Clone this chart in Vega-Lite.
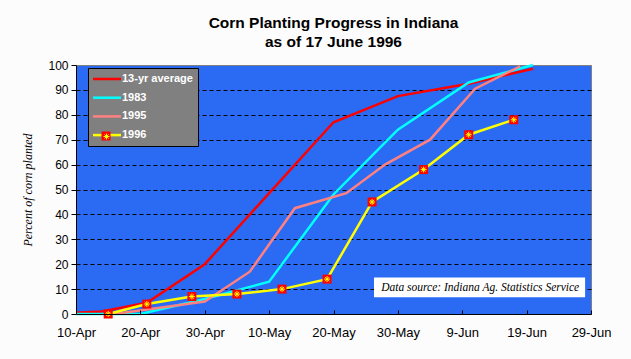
{
  "$schema": "https://vega.github.io/schema/vega-lite/v6.json",
  "autosize": "none",
  "width": 515,
  "height": 249,
  "padding": {"left": 76, "top": 65, "right": 40, "bottom": 45},
  "background": "#FCFCFC",
  "title": {
    "text": ["Corn Planting Progress in Indiana", "as of 17 June 1996"],
    "font": "Liberation Sans",
    "fontSize": 15.5,
    "fontWeight": "bold",
    "color": "#000000",
    "anchor": "middle",
    "lineHeight": 19,
    "offset": 9
  },
  "config": {
    "view": {"fill": "#2B6BF3", "stroke": "#808080", "strokeWidth": 1},
    "font": "Liberation Sans"
  },
  "resolve": {"scale": {"shape": "independent"}, "legend": {"shape": "independent"}},
  "data": {
    "values": [
      {"series": "13-yr average", "date": "1996/04/10", "pct": 0.5},
      {"series": "13-yr average", "date": "1996/04/14", "pct": 1},
      {"series": "13-yr average", "date": "1996/04/21", "pct": 4.5},
      {"series": "13-yr average", "date": "1996/04/30", "pct": 20},
      {"series": "13-yr average", "date": "1996/05/20", "pct": 77},
      {"series": "13-yr average", "date": "1996/05/30", "pct": 87.5},
      {"series": "13-yr average", "date": "1996/06/10", "pct": 92.5},
      {"series": "13-yr average", "date": "1996/06/20", "pct": 98.5},
      {"series": "1983", "date": "1996/04/10", "pct": 0},
      {"series": "1983", "date": "1996/04/20", "pct": 0},
      {"series": "1983", "date": "1996/04/30", "pct": 6},
      {"series": "1983", "date": "1996/05/10", "pct": 13},
      {"series": "1983", "date": "1996/05/20", "pct": 48},
      {"series": "1983", "date": "1996/05/30", "pct": 74},
      {"series": "1983", "date": "1996/06/10", "pct": 93},
      {"series": "1983", "date": "1996/06/20", "pct": 100},
      {"series": "1995", "date": "1996/04/16", "pct": 0},
      {"series": "1995", "date": "1996/04/23", "pct": 2.5},
      {"series": "1995", "date": "1996/04/30", "pct": 5},
      {"series": "1995", "date": "1996/05/07", "pct": 17},
      {"series": "1995", "date": "1996/05/14", "pct": 42.5},
      {"series": "1995", "date": "1996/05/22", "pct": 48.5},
      {"series": "1995", "date": "1996/05/28", "pct": 60},
      {"series": "1995", "date": "1996/06/04", "pct": 70},
      {"series": "1995", "date": "1996/06/11", "pct": 90.5},
      {"series": "1995", "date": "1996/06/18", "pct": 99.5},
      {"series": "1996", "date": "1996/04/15", "pct": 0},
      {"series": "1996", "date": "1996/04/21", "pct": 4},
      {"series": "1996", "date": "1996/04/28", "pct": 7},
      {"series": "1996", "date": "1996/05/05", "pct": 8},
      {"series": "1996", "date": "1996/05/12", "pct": 10},
      {"series": "1996", "date": "1996/05/19", "pct": 14},
      {"series": "1996", "date": "1996/05/26", "pct": 45},
      {"series": "1996", "date": "1996/06/03", "pct": 58},
      {"series": "1996", "date": "1996/06/10", "pct": 72},
      {"series": "1996", "date": "1996/06/17", "pct": 78}
    ]
  },
  "encoding": {
    "x": {
      "field": "date", "type": "temporal",
      "scale": {"domain": [{"year": 1996, "month": 4, "date": 10}, {"year": 1996, "month": 6, "date": 29}]},
      "axis": {
        "title": null,
        "values": [
          {"year": 1996, "month": 4, "date": 10},
          {"year": 1996, "month": 4, "date": 20},
          {"year": 1996, "month": 4, "date": 30},
          {"year": 1996, "month": 5, "date": 10},
          {"year": 1996, "month": 5, "date": 20},
          {"year": 1996, "month": 5, "date": 30},
          {"year": 1996, "month": 6, "date": 9},
          {"year": 1996, "month": 6, "date": 19},
          {"year": 1996, "month": 6, "date": 29}
        ],
        "tickCount": 20,
        "format": "%-d-%b",
        "labelFont": "Liberation Sans",
        "labelFontSize": 13,
        "labelColor": "#000000",
        "labelPadding": 16,
        "labelOverlap": false,
        "labelFlush": false,
        "tickSize": -4,
        "tickColor": "#000000",
        "domainColor": "#000000",
        "grid": false,
        "zindex": 1
      }
    },
    "y": {
      "field": "pct", "type": "quantitative",
      "scale": {"domain": [0, 100], "nice": false},
      "axis": {
        "title": "Percent of corn planted",
        "titleFont": "Liberation Serif",
        "titleFontStyle": "italic",
        "titleFontWeight": "normal",
        "titleFontSize": 12,
        "titleColor": "#000000",
        "titlePadding": 13,
        "values": [0, 10, 20, 30, 40, 50, 60, 70, 80, 90, 100],
        "tickCount": 20,
        "labelOverlap": false,
        "labelFont": "Liberation Sans",
        "labelFontSize": 12,
        "labelColor": "#000000",
        "labelPadding": 3,
        "tickSize": 5,
        "tickColor": "#000000",
        "domainColor": "#000000",
        "grid": true,
        "gridColor": {"condition": {"test": "datum.value == 0 || datum.value == 100", "value": "transparent"}, "value": "#000000"},
        "gridDash": [4, 3],
        "gridWidth": 1,
        "zindex": 0
      }
    }
  },
  "layer": [
    {
      "data": {"values": [{"date": "1996/05/26 07:00", "date2": "1996/06/28 02:00", "pct": 14.7, "pct2": 6.7}]},
      "mark": {"type": "rect", "fill": "#FFFFFF", "stroke": null},
      "encoding": {
        "x2": {"field": "date2"},
        "y2": {"field": "pct2"}
      }
    },
    {
      "data": {"values": [{"label": "Data source:  Indiana Ag. Statistics Service", "date": "1996/06/11 19:00", "pct": 10.6}]},
      "mark": {"type": "text", "font": "Liberation Serif", "fontStyle": "italic", "fontSize": 11.5, "color": "#000000", "align": "center", "baseline": "middle"},
      "encoding": {
        "text": {"field": "label"}
      }
    },
    {
      "mark": {"type": "line", "strokeJoin": "miter"},
      "encoding": {
        "color": {
          "field": "series", "type": "nominal",
          "scale": {"domain": ["13-yr average", "1983", "1995", "1996"], "range": ["#FF0000", "#00FFFF", "#FF8080", "#FFFF00"]},
          "legend": {
            "orient": "none", "legendX": 12, "legendY": 3,
            "title": null,
            "fillColor": "#808080",
            "strokeColor": "#000000",
            "padding": 5,
            "symbolType": "M-3,0L3,0",
            "symbolSize": 87,
            "symbolOffset": 8,
            "labelOffset": 9,
            "labelColor": "#FFFFFF",
            "labelFont": "Liberation Sans",
            "labelFontWeight": "bold",
            "labelFontSize": 11,
            "rowPadding": 7.7
          }
        },
        "strokeWidth": {
          "field": "series", "type": "ordinal",
          "scale": {"domain": ["13-yr average", "1983", "1995", "1996"], "range": [2.5, 2.5, 2.5, 4.5]}
        }
      }
    },
    {
      "transform": [{"filter": "datum.series == '1996'"}],
      "mark": {"type": "point", "filled": true, "color": "#FF0000", "opacity": 1, "size": 81, "strokeWidth": 0},
      "encoding": {
        "shape": {
          "field": "series", "type": "nominal",
          "scale": {"domain": ["1996"], "range": ["square"]},
          "legend": {
            "orient": "none", "legendX": 25.5, "legendY": 66.5,
            "title": null, "padding": 0,
            "symbolFillColor": "#FF0000", "symbolStrokeWidth": 0, "symbolSize": 81,
            "labelExpr": "''", "labelFontSize": 9
          }
        }
      }
    },
    {
      "transform": [{"filter": "datum.series == '1996'"}],
      "mark": {"type": "point", "filled": false, "stroke": "#FFFF00", "strokeWidth": 1, "opacity": 1, "size": 36},
      "encoding": {
        "shape": {
          "field": "series", "type": "nominal",
          "scale": {"domain": ["1996"], "range": ["M-1,0L1,0M0,-1L0,1M-0.7,-0.7L0.7,0.7M-0.7,0.7L0.7,-0.7"]},
          "legend": {
            "orient": "none", "legendX": 27, "legendY": 68,
            "title": null, "padding": 0,
            "symbolStrokeColor": "#FFFF00", "symbolFillColor": "transparent", "symbolStrokeWidth": 1, "symbolSize": 36,
            "labelExpr": "''", "labelFontSize": 6
          }
        }
      }
    }
  ]
}
